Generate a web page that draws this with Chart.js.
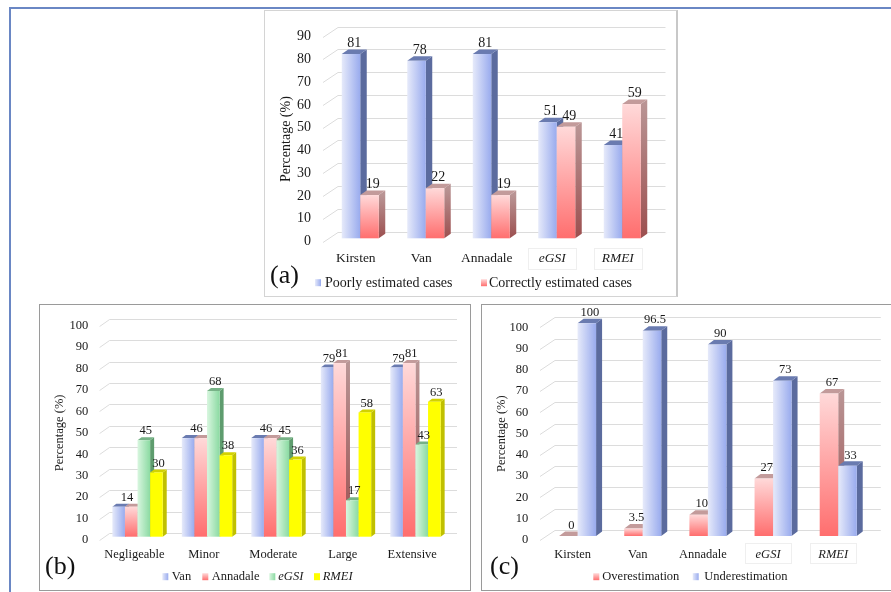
<!DOCTYPE html>
<html><head><meta charset="utf-8">
<script src="https://cdn.jsdelivr.net/npm/chart.js@4.4.1/dist/chart.umd.min.js"></script>
<style>
html,body{margin:0;padding:0;background:#fff;}
body{width:891px;height:592px;position:relative;overflow:hidden;}
#frame{position:absolute;left:9px;top:7px;width:900px;height:600px;border-top:2px solid #6a87c4;border-left:2px solid #6a87c4;}
.box{position:absolute;box-sizing:border-box;background:#fff;}
canvas{position:absolute;}
</style></head><body>
<div id="frame"></div>
<div class="box" style="left:264px;top:10px;width:414px;height:287px;border:1px solid #d4d4d4;border-right:2px solid #c8c8c8"></div>
<div class="box" style="left:39px;top:304px;width:432px;height:287px;border:1px solid #9a9a9a"></div>
<div class="box" style="left:481px;top:304px;width:420px;height:287px;border:1px solid #9a9a9a"></div>
<canvas id="ca" width="414" height="287" style="left:264px;top:10px"></canvas>
<canvas id="cb" width="432" height="286" style="left:39px;top:304px"></canvas>
<canvas id="cc" width="410" height="288" style="left:481px;top:304px"></canvas>
<script>
const FONT = "'Liberation Serif','Times New Roman',serif";

// ---- Panel (a) ----
const catsA = ['Kirsten','Van','Annadale','eGSI','RMEI'];
const poorlyA = [81, 78, 81, 51, 41];
const correctlyA = [19, 22, 19, 49, 59];
const yTicksA = [0,10,20,30,40,50,60,70,80,90];

// ---- Panel (b) ----
const catsB = ['Negligeable','Minor','Moderate','Large','Extensive'];
const vanB = [14, 46, 46, 79, 79];
const annadaleB = [14, 46, 46, 81, 81];
const egsiB = [45, 68, 45, 17, 43];
const rmeiB = [30, 38, 36, 58, 63];
const yTicksB = [0,10,20,30,40,50,60,70,80,90,100];

// ---- Panel (c) ----
const catsC = ['Kirsten','Van','Annadale','eGSI','RMEI'];
const overC = [0, 3.5, 10, 27, 67];
const underC = [100, 96.5, 90, 73, 33];
const yTicksC = [0,10,20,30,40,50,60,70,80,90,100];

const isItalic = s => s === 'eGSI' || s === 'RMEI';

const TOP = {blue:'#6a7bb0', red:'#c39b9b', green:'#76b286', yellow:'#d2d200'};
function frontFill(ctx, k, x0, x1, yt, yb) {
  let g;
  if (k === 'blue') { g = ctx.createLinearGradient(x0,0,x1,0); g.addColorStop(0,'#e6eafa'); g.addColorStop(1,'#99abee'); }
  else if (k === 'red') { g = ctx.createLinearGradient(0,yt,0,Math.max(yb,yt+1)); g.addColorStop(0,'#ffd9d9'); g.addColorStop(1,'#ff6e6e'); }
  else if (k === 'green') { g = ctx.createLinearGradient(x0,0,x1,0); g.addColorStop(0,'#d8f6df'); g.addColorStop(1,'#8bdaa2'); }
  else g = '#ffff00';
  return g;
}
function sideFill(ctx, k, yt, yb) {
  if (k === 'blue') return '#5b6b9e';
  if (k === 'green') return '#5e9c6e';
  if (k === 'yellow') return '#c0c000';
  const g = ctx.createLinearGradient(0,yt,0,Math.max(yb,yt+1));
  g.addColorStop(0,'#b99494'); g.addColorStop(1,'#9c4f4f');
  return g;
}

const bar3d = {
  id: 'bar3d',
  beforeDatasetsDraw(chart, args, o) {
    const ctx = chart.ctx, ya = chart.scales.y, ca = chart.chartArea;
    const [fdx, fdy] = o.floor;
    ctx.save();
    ctx.strokeStyle = '#dcdcdc'; ctx.lineWidth = 1;
    ya.ticks.forEach(t => {
      const y = Math.round(ya.getPixelForValue(t.value)) + 0.5;
      ctx.beginPath();
      ctx.moveTo(ca.left, y);
      ctx.lineTo(ca.left + fdx, y + fdy);
      ctx.lineTo(ca.right + fdx, y + fdy);
      ctx.stroke();
    });
    ctx.restore();
  },
  afterDatasetsDraw(chart, args, o) {
    const ctx = chart.ctx;
    const [dx, dy] = o.depth, [sx, sy] = o.shift;
    const ds = chart.data.datasets;
    const labels = [];
    ctx.save();
    for (let j = 0; j < chart.data.labels.length; j++) {
      const items = [];
      ds.forEach((d, i) => {
        const el = chart.getDatasetMeta(i).data[j];
        const p = el.getProps(['x','y','base','width'], true);
        const x0 = p.x - p.width/2 + sx, x1 = p.x + p.width/2 + sx;
        const yt = p.y + sy, yb = p.base + sy, h = yb - yt;
        if (h > 0.3) {
          ctx.fillStyle = sideFill(ctx, d.kind, yt, yb);
          ctx.beginPath(); ctx.moveTo(x1,yb); ctx.lineTo(x1+dx,yb+dy); ctx.lineTo(x1+dx,yt+dy); ctx.lineTo(x1,yt); ctx.closePath(); ctx.fill();
        }
        ctx.fillStyle = TOP[d.kind];
        ctx.beginPath(); ctx.moveTo(x0,yt); ctx.lineTo(x0+dx,yt+dy); ctx.lineTo(x1+dx,yt+dy); ctx.lineTo(x1,yt); ctx.closePath(); ctx.fill();
        if (h > 0.3) {
          ctx.fillStyle = frontFill(ctx, d.kind, x0, x1, yt, yb);
          ctx.fillRect(x0, yt, x1-x0, h);
        }
        items.push({cx:(x0+x1)/2 + dx/2, ty:yt+dy, v:d.data[j], n:1});
      });
      items.forEach(it => {
        const last = labels[labels.length-1];
        if (last && last.j === j && last.v === it.v && last.n === 1) {
          last.cx = (last.cx + it.cx)/2; last.ty = Math.min(last.ty, it.ty); last.n = 2;
        } else labels.push({...it, j});
      });
    }
    ctx.fillStyle = '#1a1a1a';
    ctx.font = o.labelSize + 'px ' + FONT;
    ctx.textAlign = 'center'; ctx.textBaseline = 'alphabetic';
    labels.forEach(m => ctx.fillText(String(m.v), m.cx, m.ty - o.labelGap));
    ctx.restore();
  },
  afterDraw(chart, args, o) {
    const ctx = chart.ctx, xa = chart.scales.x;
    ctx.save();
    // faint boxes round italic category labels
    ctx.strokeStyle = '#efefef'; ctx.lineWidth = 1;
    chart.data.labels.forEach((l, i) => {
      if (!isItalic(l) || !o.boxW) return;
      const px = xa.getPixelForTick(i);
      ctx.strokeRect(Math.round(px - o.boxW/2)+0.5, Math.round(o.boxY - o.boxH/2)+0.5, o.boxW, o.boxH);
    });
    // legend
    const L = o.legend;
    ctx.textAlign = 'left'; ctx.textBaseline = 'middle';
    chart.data.datasets.forEach((d, i) => {
      const mx = L.mx[i], my = L.y - 3.5;
      ctx.fillStyle = frontFill(ctx, d.kind, mx, mx+6, my, my+7);
      ctx.fillRect(mx, my, 6, 7);
      ctx.fillStyle = '#1a1a1a';
      ctx.font = (isItalic(d.label) ? 'italic ' : '') + L.size + 'px ' + FONT;
      ctx.fillText(d.label, L.tx[i], L.y + 0.5);
    });
    // panel label
    ctx.font = o.panel.size + 'px ' + FONT;
    ctx.fillStyle = '#111';
    ctx.fillText(o.panel.text, o.panel.x, o.panel.y);
    ctx.restore();
  }
};

function build(id, labels, series, P) {
  return new Chart(document.getElementById(id), {
    type: 'bar',
    data: {
      labels,
      datasets: series.map(s => ({label:s.label, data:s.data, kind:s.kind,
        backgroundColor:'rgba(0,0,0,0)', borderWidth:0, categoryPercentage:P.catPct, barPercentage:1}))
    },
    options: {
      responsive:false, animation:false, devicePixelRatio:1,
      layout:{padding:{left:0, top:P.top, right:P.right, bottom:0}},
      plugins:{legend:{display:false}, tooltip:{enabled:false}, bar3d:P},
      scales: {
        x: {
          grid:{display:false, drawTicks:false}, border:{display:false},
          ticks:{padding:P.xPad, color:'#1a1a1a', maxRotation:0, autoSkip:false,
            font: c => ({family:FONT, size:P.xSize, style:(c.tick && isItalic(c.tick.label)) ? 'italic' : 'normal'})},
          afterFit: s => { s.height = P.xH; }
        },
        y: {
          min:0, max:P.yTicks[P.yTicks.length-1],
          grid:{display:false, drawTicks:false}, border:{display:false},
          afterBuildTicks: s => { s.ticks = P.yTicks.map(v => ({value:v})); },
          ticks:{padding:P.yPad, color:'#1a1a1a', font:{family:FONT, size:P.ySize}},
          title:{display:true, text:'Percentage (%)', color:'#1a1a1a', font:{family:FONT, size:P.tSize}, padding:{top:P.tPad, bottom:0}},
          afterFit: s => { s.width = P.yW; }
        }
      }
    },
    plugins:[bar3d]
  });
}

build('ca', catsA, [
  {label:'Poorly estimated cases', data:poorlyA, kind:'blue'},
  {label:'Correctly estimated cases', data:correctlyA, kind:'red'}
], {
  yTicks:yTicksA, catPct:0.565, top:26.7, right:27.5, xH:55.5, yW:59,
  yPad:12, ySize:14, tSize:14, tPad:14.3, xPad:8.7, xSize:13.5,
  floor:[15,-10], depth:[6.5,-4.5], shift:[4.5,-3.2], labelSize:14, labelGap:2.3,
  boxW:48, boxH:21, boxY:248.5,
  legend:{y:272.7, size:14, mx:[51,217], tx:[61,225]},
  panel:{text:'(a)', x:6, y:266, size:26}
});

build('cb', catsB, [
  {label:'Van', data:vanB, kind:'blue'},
  {label:'Annadale', data:annadaleB, kind:'red'},
  {label:'eGSI', data:egsiB, kind:'green'},
  {label:'RMEI', data:rmeiB, kind:'yellow'}
], {
  yTicks:yTicksB, catPct:0.725, top:21.7, right:24, xH:50, yW:60.6,
  yPad:11.3, ySize:12.5, tSize:12.5, tPad:13.5, xPad:6.8, xSize:12.5,
  floor:[10,-7], depth:[4,-3], shift:[3.2,-3.3], labelSize:12.5, labelGap:2.8,
  boxW:0, boxH:0, boxY:0,
  legend:{y:272.7, size:12.5, mx:[123.3,163.3,230.3,275], tx:[132.7,172.7,239.3,283.7]},
  panel:{text:'(b)', x:6, y:262.7, size:26}
});

build('cc', catsC, [
  {label:'Overestimation', data:overC, kind:'red'},
  {label:'Underestimation', data:underC, kind:'blue'}
], {
  yTicks:yTicksC, catPct:0.568, top:23.3, right:25.2, xH:52, yW:59,
  yPad:11.7, ySize:12.5, tSize:12.5, tPad:13.2, xPad:6.8, xSize:12.5,
  floor:[15,-10], depth:[6,-4.5], shift:[5,-4], labelSize:12.5, labelGap:2.8,
  boxW:46, boxH:20, boxY:249,
  legend:{y:272.7, size:12.5, mx:[112.3,211.7], tx:[121.3,223.3]},
  panel:{text:'(c)', x:9, y:262.7, size:26}
});
</script>
</body></html>
